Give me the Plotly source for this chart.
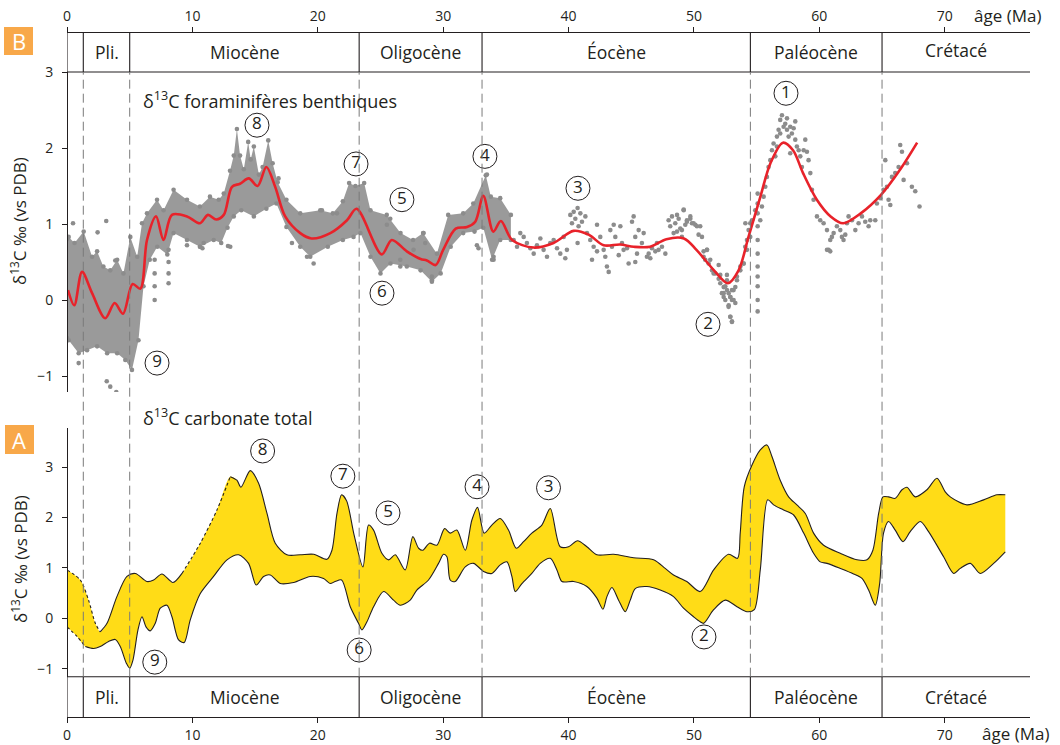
import plotly.graph_objects as go

# ---------------------------------------------------------------- data
# geological time scale (Ma)
epoch_edges = [0, 1.3, 5.0, 23.3, 33.1, 54.5, 65.0, 76.8]
epoch_names = ["", "Pli.", "Miocène", "Oligocène", "Éocène", "Paléocène", "Crétacé"]
age_ticks = [0, 10, 20, 30, 40, 50, 60, 70]
d13c_ticks = [-1, 0, 1, 2, 3]

# B : benthic foraminifera d13C -- smoothed record
smooth_age = [0.08, 0.58, 1.2, 2.0, 3.05, 3.8, 4.47, 5.23, 5.85, 6.38,
              7.1, 7.7, 8.37, 9.57, 10.6, 11.24, 11.9, 12.5, 13.16, 13.8,
              14.5, 15.2, 15.9, 16.6, 17.4, 18.6, 19.5, 21.0, 22.33, 23.1,
              25.1, 25.9, 27.1, 28.2, 28.7, 29.4, 30.0, 31.0, 31.9, 32.56,
              33.2, 34.0, 34.6, 35.5, 37.2, 38.8, 40.4, 41.6, 42.8, 44.1,
              45.2, 46.5, 47.8, 49.2, 50.2, 51.6, 52.7, 53.56, 54.35, 55.3,
              56.1, 57.1, 57.9, 58.7, 59.8, 60.9, 61.9, 63.3, 64.9, 66.5,
              67.8]
smooth_val = [0.13, -0.07, 0.37, 0.09, -0.24, -0.04, -0.18, 0.21, 0.15, 0.79,
              1.10, 0.79, 1.12, 1.10, 1.01, 1.12, 1.06, 1.12, 1.49, 1.53,
              1.60, 1.50, 1.75, 1.49, 1.10, 0.88, 0.81, 0.88, 1.05, 1.20,
              0.60, 0.79, 0.64, 0.54, 0.52, 0.46, 0.66, 0.94, 0.96, 1.03,
              1.37, 0.90, 1.04, 0.79, 0.69, 0.75, 0.91, 0.86, 0.72, 0.73,
              0.70, 0.70, 0.80, 0.81, 0.66, 0.39, 0.22, 0.39, 0.83, 1.36,
              1.80, 2.07, 1.97, 1.67, 1.32, 1.10, 1.01, 1.14, 1.38, 1.73,
              2.07]

# B : envelope of the densely sampled Neogene / Oligocene measurements
cloud_top_age = [0.0, 0.13, 0.6, 1.33, 2.0, 2.4, 2.9, 3.45, 4.0, 4.5,
                 5.05, 5.6, 5.98, 6.38, 7.18, 7.7, 8.5, 9.57, 10.6, 11.4,
                 12.1, 12.5, 13.0, 13.3, 13.55, 13.8, 14.1, 14.45, 14.65, 14.9,
                 15.3, 15.6, 16.05, 16.4, 16.8, 17.5, 18.6, 20.2, 21.2, 22.0,
                 22.5, 23.0, 23.7, 24.2, 25.5, 26.6, 27.6, 28.4, 29.5, 30.4,
                 31.6, 32.4, 33.4, 33.8, 34.55, 35.4]
cloud_top_val = [0.80, 0.83, 0.75, 0.90, 0.57, 0.64, 0.44, 0.39, 0.53, 0.35,
                 0.83, 0.57, 1.01, 1.14, 1.32, 1.18, 1.45, 1.32, 1.23, 1.36,
                 1.32, 1.40, 1.70, 1.90, 2.25, 1.90, 1.72, 2.08, 1.85, 2.02,
                 1.65, 1.75, 2.10, 1.80, 1.55, 1.32, 1.14, 1.18, 1.14, 1.30,
                 1.54, 1.50, 1.54, 1.18, 1.12, 0.88, 0.79, 0.88, 0.61, 1.12,
                 1.14, 1.27, 1.64, 1.36, 1.34, 1.12]
cloud_bot_age = [0.0, 0.13, 0.93, 1.6, 2.4, 3.2, 4.0, 4.65, 5.18, 5.7,
                 6.1, 6.6, 7.2, 8.0, 8.5, 9.57, 10.6, 11.7, 12.3, 12.8,
                 13.3, 13.9, 14.9, 15.9, 16.7, 17.5, 18.6, 19.4, 20.8, 22.0,
                 22.85, 23.4, 24.2, 25.0, 25.8, 27.1, 28.2, 29.1, 29.8, 30.6,
                 31.6, 32.5, 33.2, 33.9, 34.55, 35.4]
cloud_bot_val = [-0.50, -0.53, -0.70, -0.66, -0.61, -0.70, -0.70, -0.79, -0.92, -0.53,
                 0.18, 0.53, 0.70, 0.60, 0.88, 0.79, 0.70, 0.79, 0.75, 0.95,
                 1.10, 1.18, 1.10, 1.20, 1.27, 0.96, 0.70, 0.57, 0.70, 0.79,
                 0.83, 0.88, 0.57, 0.35, 0.48, 0.44, 0.39, 0.24, 0.35, 0.70,
                 0.88, 0.90, 0.95, 0.53, 0.79, 0.79]

# B : individual measurements (age Ma, d13C)
benthic_points = [
    (3.17, -1.07), (3.45, -1.14), (3.93, -1.21), (2.44, 0.89), (3.13, 1.04), (0.48, 1.01),
    (0.93, -0.83), (3.85, 0.52), (6.99, 0.0), (6.99, 0.18), (6.99, 0.35), (6.99, 0.53),
    (8.1, 0.22), (8.1, 0.35), (8.1, 0.50), (8.1, 0.66), (9.57, 0.72), (10.63, 0.70),
    (12.84, 0.71), (10.9, 0.75), (10.8, 0.68), (13.02, 0.70), (17.94, 0.75), (19.14, 0.57),
    (19.67, 0.48), (20.33, 1.18), (21.53, 1.14), (16.87, 1.60), (25.78, 1.07), (25.51, 0.99),
    (26.58, 0.53), (26.58, 0.44), (27.64, 0.66), (28.44, 0.88), (28.57, 0.75), (29.1, 0.31),
    (29.1, 0.26), (32.69, 0.72), (32.82, 0.68), (34.02, 0.57), (34.02, 0.53), (33.49, 1.65),
    (35.62, 0.79), (35.89, 0.70), (36.15, 0.88), (36.42, 0.83), (36.68, 0.75), (36.95, 0.68),
    (37.22, 0.61), (37.48, 0.72), (37.75, 0.81), (38.01, 0.66), (38.28, 0.57), (38.54, 0.75),
    (38.81, 0.79), (39.08, 0.68), (39.34, 0.61), (39.61, 0.83), (39.74, 0.55), (39.87, 0.66),
    (40.14, 1.12), (40.41, 1.16), (40.54, 1.07), (40.72, 1.21), (40.94, 1.14), (41.07, 1.03),
    (41.34, 1.10), (40.27, 1.01), (40.80, 0.97), (41.47, 0.88), (40.72, 0.75), (41.73, 0.79),
    (42.0, 0.70), (42.27, 0.99), (42.53, 0.83), (42.8, 0.66), (42.93, 0.57), (43.06, 0.44),
    (43.2, 0.37), (43.33, 0.92), (43.46, 0.70), (43.6, 0.99), (43.73, 0.83), (44.0, 0.59),
    (44.13, 0.97), (44.26, 0.75), (44.39, 0.66), (44.66, 0.68), (44.79, 0.48), (45.06, 1.03),
    (45.19, 1.10), (45.32, 0.83), (45.46, 0.61), (45.59, 0.92), (45.85, 0.75), (45.99, 0.88),
    (46.25, 0.57), (45.32, 0.50), (41.87, 0.53), (42.27, 0.64), (46.39, 0.61), (46.65, 0.68),
    (46.92, 0.64), (47.18, 0.66), (47.45, 0.70), (47.72, 0.61), (46.52, 0.55), (47.05, 0.75),
    (47.98, 1.05), (48.11, 0.97), (48.38, 0.88), (48.51, 1.01), (48.65, 0.90), (48.78, 1.07),
    (48.91, 0.94), (49.04, 0.83), (49.18, 1.18), (49.31, 0.99), (49.44, 1.03), (49.71, 1.07),
    (49.84, 1.01), (50.11, 0.99), (50.37, 0.86), (48.25, 1.10), (48.65, 1.12), (50.77, 0.64),
    (51.04, 0.66), (50.9, 0.53), (51.17, 0.48), (51.44, 0.39), (51.7, 0.35), (51.97, 0.28),
    (52.1, 0.22), (52.23, 0.09), (52.37, 0.04), (52.63, 0.13), (52.5, 0.0), (52.77, -0.07),
    (52.9, 0.04), (53.03, 0.0), (53.16, 0.13), (53.3, 0.17), (52.9, -0.22), (53.03, -0.29),
    (52.63, 0.33), (53.43, 0.31), (53.7, 0.39), (53.96, 0.48), (54.23, 0.66), (54.49, 0.83),
    (54.1, 1.01), (54.89, 1.18), (52.37, 0.17), (52.77, 0.09), (53.3, -0.04),
    (49.18, 1.19), (49.44, 1.05), (49.71, 1.10), (49.97, 1.01), (50.24, 0.97), (50.5, 0.97),
    (49.04, 0.92), (50.64, 0.83), (50.77, 0.57), (51.04, 0.66), (51.3, 0.53), (51.57, 0.35),
    (51.97, 0.46), (52.1, 0.33), (52.37, 0.09), (52.5, 0.18), (52.63, 0.26), (52.9, 0.04),
    (53.03, 0.13), (53.16, 0.0), (52.76, -0.09), (52.9, -0.22), (53.03, -0.28), (53.43, 0.26),
    (53.7, 0.44), (53.96, 0.48), (54.09, 0.70), (54.23, 0.79), (54.36, 0.92), (54.49, 1.01),
    (54.63, 1.05), (55.08, 1.40), (55.08, 1.27), (55.08, 1.14), (55.08, 0.97), (55.08, 0.79),
    (55.08, 0.61), (55.08, 0.44), (55.08, 0.31), (55.08, 0.18), (55.08, 0.0), (55.08, -0.15),
    (55.29, 1.05), (55.42, 1.23), (55.56, 1.36), (55.69, 1.49), (55.82, 1.62), (55.95, 1.75),
    (56.09, 1.84), (56.22, 1.97), (56.35, 2.06), (56.62, 2.15), (56.75, 2.24), (56.88, 2.37),
    (57.02, 2.43), (57.15, 2.28), (57.28, 2.32), (57.42, 2.24), (57.55, 2.15), (57.68, 2.28),
    (57.81, 2.19), (57.95, 2.26), (58.08, 2.11), (58.21, 2.02), (58.35, 1.97), (58.48, 1.89),
    (58.61, 1.75), (58.75, 1.97), (58.88, 2.11), (59.01, 1.95), (59.14, 1.84), (59.28, 1.67),
    (59.41, 1.45), (59.54, 1.32), (58.08, 2.35), (57.42, 2.39), (56.49, 1.89), (56.88, 2.19),
    (57.68, 1.93), (56.62, 2.02), (59.81, 1.10), (60.07, 1.05), (60.34, 1.01), (60.61, 0.92),
    (60.74, 0.66), (60.87, 0.79), (61.0, 0.83), (61.14, 0.88), (61.4, 0.97), (61.67, 0.92),
    (61.8, 0.83), (61.93, 0.79), (62.07, 0.86), (62.2, 1.01), (62.33, 1.10), (62.6, 1.05),
    (62.87, 0.92), (63.13, 1.01), (63.4, 1.10), (63.66, 1.03), (63.93, 0.97), (64.06, 1.05),
    (64.46, 1.05), (64.59, 1.27), (64.86, 1.34), (65.12, 1.45), (65.39, 1.49), (65.52, 1.32),
    (65.66, 1.25), (65.26, 1.84), (65.79, 1.62), (66.05, 1.67), (66.32, 1.75), (66.45, 2.04),
    (66.59, 1.95), (66.72, 1.58), (66.99, 1.80), (67.38, 1.49), (67.65, 1.43), (67.99, 1.23),
    (60.61, 0.66), (60.87, 0.64),
]

# A : bulk carbonate d13C envelope
bulk_hi_age = [0.0, 1.06, 1.72, 2.26, 2.65, 3.19, 3.98, 4.78, 5.45, 6.38,
               6.91, 7.57, 8.45, 9.17, 10.63, 11.96, 13.02, 13.55, 13.87, 14.62,
               15.28, 15.95, 16.61, 17.54, 18.6, 19.67, 20.73, 21.13, 21.53, 21.9,
               22.3, 22.9, 23.6, 24.05, 24.45, 25.11, 25.65, 26.18, 26.97, 27.58,
               28.04, 28.38, 28.91, 29.5, 30.11, 30.56, 31.09, 31.76, 32.29, 32.74,
               33.27, 33.88, 34.55, 35.21, 35.83, 36.41, 37.07, 37.87, 38.54, 39.33,
               40.0, 40.72, 41.46, 42.26, 43.59, 45.18, 46.78, 47.71, 48.37, 49.43,
               50.5, 51.57, 52.76, 53.48, 53.69, 54.01, 54.63, 55.29, 55.82, 56.22,
               56.88, 57.55, 58.21, 58.88, 59.54, 60.34, 61.67, 63.0, 63.8, 64.27,
               64.73, 65.07, 65.52, 66.05, 66.59, 66.99, 67.65, 68.58, 69.38, 70.04,
               70.44, 71.77, 73.1, 74.16, 74.83]
bulk_hi_val = [0.96, 0.76, 0.36, -0.10, -0.27, -0.10, 0.43, 0.83, 0.89, 0.73,
               0.76, 0.88, 0.71, 0.89, 1.49, 2.15, 2.81, 2.74, 2.60, 2.93,
               2.68, 2.08, 1.49, 1.26, 1.26, 1.27, 1.17, 1.35, 2.08, 2.45,
               2.33, 1.65, 1.02, 1.85, 1.75, 1.29, 1.16, 1.26, 0.96, 1.62,
               1.39, 1.35, 1.49, 1.45, 1.78, 1.69, 1.75, 1.35, 1.95, 2.20,
               1.69, 1.85, 1.98, 1.75, 1.39, 1.52, 1.69, 1.85, 2.18, 1.42,
               1.42, 1.54, 1.42, 1.26, 1.27, 1.20, 1.16, 0.99, 0.86, 0.73,
               0.53, 0.96, 1.27, 1.19, 1.69, 2.61, 3.04, 3.34, 3.44, 3.21,
               2.74, 2.41, 2.25, 2.08, 1.69, 1.45, 1.29, 1.16, 1.16, 1.35,
               2.08, 2.41, 2.41, 2.38, 2.55, 2.60, 2.41, 2.55, 2.78, 2.51,
               2.41, 2.25, 2.35, 2.45, 2.45]
bulk_lo_age = [0.0, 0.8, 1.46, 2.12, 2.65, 3.32, 3.85, 4.25, 4.73, 5.0,
               5.26, 5.66, 5.98, 6.3, 6.64, 7.04, 7.44, 7.97, 8.37, 8.9,
               9.35, 9.83, 10.63, 11.69, 12.76, 13.69, 14.48, 15.09, 15.68, 16.21,
               17.01, 18.07, 19.4, 20.46, 20.99, 21.39, 21.9, 22.59, 23.25, 23.52,
               23.92, 24.45, 25.25, 26.04, 26.58, 27.37, 27.9, 28.83, 29.63, 30.03,
               30.3, 30.56, 30.96, 31.76, 32.42, 33.22, 33.88, 34.55, 35.08, 35.48,
               35.75, 36.28, 37.07, 37.74, 38.54, 39.07, 39.47, 40.4, 41.46, 42.26,
               42.74, 43.06, 43.46, 43.99, 44.52, 44.92, 45.32, 46.25, 47.31, 48.37,
               49.17, 49.97, 50.5, 50.77, 51.57, 52.5, 53.43, 54.23, 54.81, 55.29,
               55.88, 56.35, 57.15, 57.95, 58.75, 59.54, 60.07, 60.61, 61.67, 62.73,
               63.4, 63.93, 64.46, 64.81, 65.12, 65.52, 66.05, 66.67, 67.25, 68.05,
               68.71, 69.91, 70.71, 71.24, 72.04, 72.83, 73.9, 74.83]
bulk_lo_val = [-0.17, -0.36, -0.56, -0.60, -0.56, -0.46, -0.42, -0.56, -0.89, -0.99,
               -0.83, -0.23, 0.03, -0.17, -0.25, -0.10, 0.20, 0.26, 0.03, -0.43,
               -0.48, -0.03, 0.49, 0.83, 1.16, 1.26, 1.09, 0.66, 0.83, 0.86,
               0.69, 0.71, 0.83, 0.79, 0.69, 0.73, 0.76, 0.23, -0.10, -0.23,
               -0.07, 0.23, 0.53, 0.36, 0.26, 0.36, 0.56, 0.76, 1.09, 1.27,
               1.22, 0.76, 0.73, 1.02, 1.09, 0.93, 0.89, 1.06, 1.12, 0.83,
               0.53, 0.69, 0.89, 1.09, 1.19, 0.96, 0.73, 0.73, 0.63, 0.40,
               0.18, 0.43, 0.61, 0.36, 0.13, 0.36, 0.59, 0.63, 0.56, 0.43,
               0.20, 0.03, -0.07, -0.10, 0.17, 0.36, 0.23, 0.13, 0.17, 0.96,
               2.35, 2.25, 2.15, 2.05, 1.69, 1.29, 1.12, 1.09, 0.99, 0.88,
               0.79, 0.56, 0.26, 0.69, 1.69, 1.92, 1.75, 1.52, 1.72, 1.92,
               1.72, 1.22, 0.89, 0.99, 1.09, 0.89, 1.09, 1.32]
# poorly constrained stretches of the envelope (drawn dashed)
bulk_hi_dashed = [(0.0, 2.65), (9.17, 13.02)]
bulk_lo_dashed = [(0.0, 1.46)]

# numbered carbon-isotope events
event_num = ["1", "2", "3", "4", "5", "6", "7", "8", "9"]
evB_age = [57.34, 51.12, 40.75, 33.33, 26.71, 25.12, 23.05, 15.15, 7.18]
evB_val = [2.72, -0.32, 1.47, 1.89, 1.32, 0.09, 1.79, 2.30, -0.83]
evA_age = [55.5, 50.8, 38.4, 32.7, 25.6, 23.3, 22.0, 15.6, 7.0]
evA_val = [3.86, -0.37, 2.59, 2.61, 2.09, -0.63, 2.82, 3.32, -0.87]

# ---------------------------------------------------------------- layout helpers
W, H = 1060, 745
ML, MR, MT, MB = 67, 30, 32, 28
FONT = "Open Sans"
INK = "#231f20"
GREY = "#8c8c8c"
RED = "#e8222a"
YELLOW = "#ffdc17"
ORANGE = "#f8a849"


def px_x(px):
    return (px - ML) / (W - ML - MR)


def px_y(py):
    return (H - MB - py) / (H - MT - MB)


domB = [px_y(392), px_y(72)]
domA = [px_y(676.7), px_y(428)]
band_top = (px_y(72), 1.0)
band_bot = (0.0, px_y(676.7))
x_max = epoch_edges[-1]


def split_segments(ages, vals, spans):
    """Split a line into (dashed?, ages, vals) runs; runs share their end points."""
    def in_span(a):
        return any(lo <= a <= hi for lo, hi in spans)
    segs, cur_a, cur_v, cur_d = [], [], [], None
    for i, (a, v) in enumerate(zip(ages, vals)):
        d = in_span(a)
        if 0 < i < len(ages) - 1:
            d = in_span(a) and in_span((a + ages[i + 1]) / 2)
        if cur_d is None:
            cur_d = d
        if d != cur_d:
            cur_a.append(a)
            cur_v.append(v)
            segs.append((cur_d, cur_a, cur_v))
            cur_a, cur_v, cur_d = [a], [v], d
        else:
            cur_a.append(a)
            cur_v.append(v)
    segs.append((cur_d, cur_a, cur_v))
    return segs


fig = go.Figure()

# ---- panel B : benthic foraminifera
fig.add_trace(go.Scatter(x=cloud_bot_age, y=cloud_bot_val, mode="lines",
                         line=dict(width=0, color=GREY), xaxis="x2", yaxis="y",
                         hoverinfo="skip", showlegend=False))
fig.add_trace(go.Scatter(x=cloud_top_age, y=cloud_top_val, mode="lines",
                         line=dict(width=0, color=GREY), fill="tonexty",
                         fillcolor="rgba(145,145,145,0.92)", xaxis="x2", yaxis="y",
                         hoverinfo="skip", showlegend=False))
env_a = cloud_top_age + cloud_bot_age
env_v = cloud_top_val + cloud_bot_val
fig.add_trace(go.Scatter(x=env_a + [p[0] for p in benthic_points],
                         y=env_v + [p[1] for p in benthic_points],
                         mode="markers", marker=dict(size=4.6, color=GREY),
                         xaxis="x2", yaxis="y", showlegend=False))
fig.add_trace(go.Scatter(x=smooth_age, y=smooth_val, mode="lines",
                         line=dict(color=RED, width=2.6, shape="spline", smoothing=0.9),
                         xaxis="x2", yaxis="y", showlegend=False))

# ---- panel A : bulk carbonate band
fig.add_trace(go.Scatter(x=bulk_lo_age, y=bulk_lo_val, mode="lines",
                         line=dict(width=0, shape="spline", smoothing=0.8),
                         xaxis="x", yaxis="y2", hoverinfo="skip", showlegend=False))
fig.add_trace(go.Scatter(x=bulk_hi_age, y=bulk_hi_val, mode="lines",
                         line=dict(width=0, shape="spline", smoothing=0.8),
                         fill="tonexty", fillcolor=YELLOW,
                         xaxis="x", yaxis="y2", hoverinfo="skip", showlegend=False))
for ages, vals, spans in ((bulk_hi_age, bulk_hi_val, bulk_hi_dashed),
                          (bulk_lo_age, bulk_lo_val, bulk_lo_dashed)):
    for dashed, sa, sv in split_segments(ages, vals, spans):
        fig.add_trace(go.Scatter(
            x=sa, y=sv, mode="lines",
            line=dict(color=INK, width=1.1, shape="spline", smoothing=0.8,
                      dash="3px,2.5px" if dashed else "solid"),
            xaxis="x", yaxis="y2", showlegend=False))

# ---- circled event numbers
for xa, ya, ax in ((evB_age, evB_val, ("x2", "y")), (evA_age, evA_val, ("x", "y2"))):
    fig.add_trace(go.Scatter(
        x=xa, y=ya, mode="markers+text", text=event_num, textposition="middle center",
        textfont=dict(family=FONT, size=17, color=INK),
        marker=dict(symbol="circle", size=24, color="rgba(255,255,255,0)",
                    line=dict(color=INK, width=1)),
        xaxis=ax[0], yaxis=ax[1], cliponaxis=False, showlegend=False))

# ---------------------------------------------------------------- shapes
shapes = []
line_style = dict(color=INK, width=1.1)
# epoch bands (top and bottom)
for y0, y1 in (band_top, band_bot):
    inner = y0 if y0 > 0.5 else y1
    shapes.append(dict(type="line", xref="x", yref="paper", x0=0, x1=x_max,
                       y0=inner, y1=inner, line=line_style))
    for e in epoch_edges[:-1]:
        shapes.append(dict(type="line", xref="x", yref="paper", x0=e, x1=e,
                           y0=y0, y1=y1, line=line_style))
# dashed epoch boundaries through both panels
for e in epoch_edges[1:-1]:
    shapes.append(dict(type="line", xref="x", yref="paper", x0=e, x1=e,
                       y0=band_bot[1], y1=band_top[0], layer="above",
                       line=dict(color="#7a7a7a", width=1, dash="9px,5px")))
# panel letters
for (x0, x1, y0, y1) in ((4, 33, 27, 55), (5, 34, 425, 454)):
    shapes.append(dict(type="rect", xref="paper", yref="paper", layer="below",
                       x0=px_x(x0), x1=px_x(x1), y0=px_y(y1), y1=px_y(y0),
                       fillcolor=ORANGE, line=dict(width=0)))

# ---------------------------------------------------------------- annotations
ann = []


def label(x, y, text, size, xref="paper", color=INK, xanchor="center", angle=0):
    ann.append(dict(x=x, y=y, xref=xref, yref="paper", text=text, showarrow=False,
                    xanchor=xanchor, yanchor="middle", textangle=angle,
                    font=dict(family=FONT, size=size, color=color)))


for i, name in enumerate(epoch_names):
    if not name:
        continue
    xc = (epoch_edges[i] + epoch_edges[i + 1]) / 2
    label(xc, px_y(50 if name == "Crétacé" else 52), name, 17.5, xref="x")
    label(xc, px_y(696.7), name, 17.5, xref="x")
label(px_x(141), px_y(100), "δ<sup>13</sup>C foraminifères benthiques", 18, xanchor="left")
label(px_x(141), px_y(417), "δ<sup>13</sup>C carbonate total", 18, xanchor="left")
for yc in (221, 559):
    label(px_x(19), px_y(yc), "δ<sup>13</sup>C ‰ (vs PDB)", 17, angle=-90)
label(px_x(1007), px_y(16), "âge (Ma)", 17)
label(px_x(1015), px_y(733), "âge (Ma)", 17)
for letter, yc in (("B", 41), ("A", 439.5)):
    label(px_x(18.5), px_y(yc), letter, 22, color="white")

axis_common = dict(range=[0, x_max], showgrid=False, zeroline=False, showline=True,
                   linecolor=INK, linewidth=1.1, ticks="outside", ticklen=5,
                   tickcolor=INK, tickwidth=1, tickvals=age_ticks, automargin=False,
                   tickfont=dict(family=FONT, size=14, color=INK))
yaxis_common = dict(showgrid=False, zeroline=False, showline=True, linecolor=INK,
                    linewidth=1.1, ticks="outside", ticklen=5, tickcolor=INK,
                    tickvals=d13c_ticks, anchor="free", position=0, automargin=False,
                    ticklabelstandoff=6,
                    tickfont=dict(family=FONT, size=14, color=INK))

fig.update_layout(
    template="none",
    width=W, height=H, margin=dict(l=ML, r=MR, t=MT, b=MB, autoexpand=False),
    paper_bgcolor="white", plot_bgcolor="rgba(0,0,0,0)",
    xaxis=dict(domain=[0, 1], anchor="free", position=0, side="bottom", **axis_common),
    xaxis2=dict(domain=[0, 1], anchor="free", position=1, side="top", matches="x",
                **axis_common),
    yaxis=dict(domain=domB, range=[-1.2105, 3.0], **yaxis_common),
    yaxis2=dict(domain=domA, range=[-1.159, 3.776], **yaxis_common),
    shapes=shapes, annotations=ann, showlegend=False,
)

fig.write_html("out.html")
